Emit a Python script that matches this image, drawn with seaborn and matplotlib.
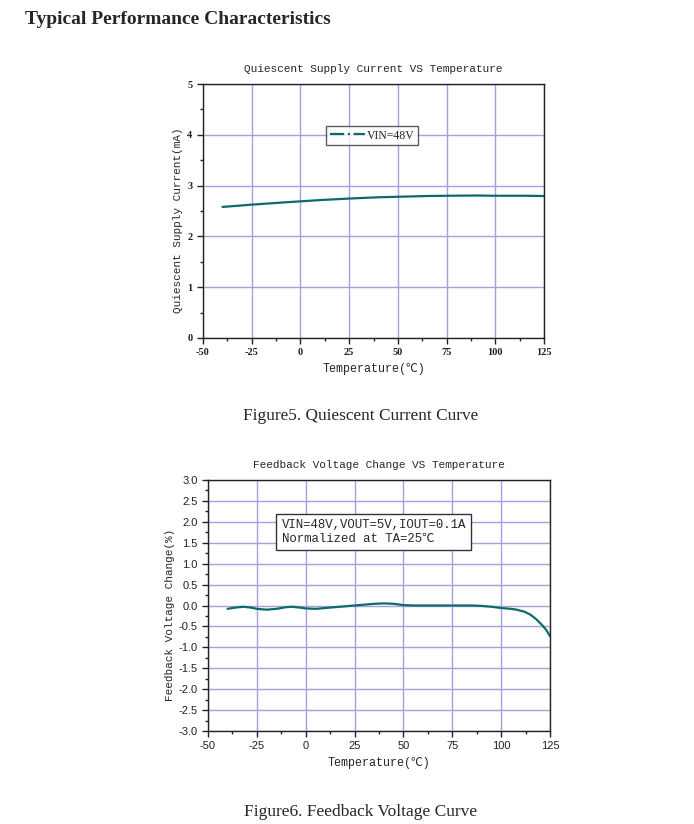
import numpy as np
import pandas as pd
import matplotlib
matplotlib.use("Agg")
import matplotlib.pyplot as plt
from matplotlib.lines import Line2D
from matplotlib.ticker import MultipleLocator, FormatStrFormatter
import seaborn as sns

# figure 5 data: quiescent current vs temperature
temp_q = [-40, -25, -10, 0, 10, 25, 40, 50, 65, 75, 90, 100, 115, 125]
iq_ma = [2.58, 2.625, 2.665, 2.69, 2.715, 2.745, 2.77, 2.78, 2.795, 2.80, 2.805, 2.80, 2.80, 2.795]

# figure 6 data: feedback voltage change vs temperature
temp_fb = [-40, -36, -32, -28, -25, -20, -15, -10, -7, -3, 0, 5, 10, 15, 20, 25, 30, 35,
           40, 45, 50, 55, 60, 70, 80, 85, 90, 95, 100, 105, 108, 112, 115, 118, 121, 123, 125]
fb_change = [-0.08, -0.05, -0.03, -0.05, -0.08, -0.10, -0.08, -0.04, -0.03, -0.05, -0.07,
             -0.08, -0.06, -0.04, -0.02, 0.0, 0.02, 0.04, 0.05, 0.04, 0.01, 0.0, 0.0, 0.0,
             0.0, 0.0, -0.01, -0.03, -0.06, -0.08, -0.10, -0.15, -0.22, -0.33, -0.47, -0.58, -0.73]

df_q = pd.DataFrame({"temp": temp_q, "iq": iq_ma})
df_fb = pd.DataFrame({"temp": temp_fb, "fb": fb_change})

sns.set_style("white")
plt.rcParams["axes.unicode_minus"] = False
line_color = "#0e6a6a"
grid_color = "#a3a3dc"
mono = "Liberation Mono"
mono_cjk = ["Liberation Mono", "Noto Sans CJK SC"]

fig = plt.figure(figsize=(6.94, 8.24), dpi=100)
fig.text(25 / 694, 1 - 20 / 824, "Typical Performance Characteristics", family="Liberation Serif",
         weight="bold", fontsize=14, va="center", ha="left")


def style_axes(ax, tickfont, size):
    ax.set_xlim(-50, 125)
    ax.xaxis.set_major_locator(MultipleLocator(25))
    ax.xaxis.set_minor_locator(MultipleLocator(12.5))
    ax.grid(True, which="major", color=grid_color, linewidth=1.0)
    ax.set_axisbelow(True)
    for s in ax.spines.values():
        s.set_color("#222222")
        s.set_linewidth(1.0)
    ax.tick_params(which="major", direction="out", length=4, width=1, colors="#222222",
                   bottom=True, left=True, labelsize=size)
    ax.tick_params(which="minor", direction="out", length=2, width=1, colors="#222222",
                   bottom=True, left=True)
    for lab in ax.get_xticklabels() + ax.get_yticklabels():
        lab.set_family(tickfont)
        if tickfont == "Liberation Serif":
            lab.set_weight("bold")


# ---- Figure 5 ----
ax1 = fig.add_axes([203 / 694, 1 - 338 / 824, 341 / 694, 254 / 824])
sns.lineplot(data=df_q, x="temp", y="iq", ax=ax1, color=line_color, linewidth=1.6)
ax1.set_ylim(0, 5)
ax1.yaxis.set_major_locator(MultipleLocator(1))
ax1.yaxis.set_minor_locator(MultipleLocator(0.5))
style_axes(ax1, "Liberation Serif", 7.5)
ax1.set_title("Quiescent Supply Current VS Temperature", family=mono, fontsize=8, pad=9)
ax1.set_xlabel("Temperature(℃)", family=mono_cjk, fontsize=8.5, labelpad=4)
ax1.set_ylabel("Quiescent Supply Current(mA)", family=mono, fontsize=8)
ax1.yaxis.set_label_coords(-0.059, 0.465)
handle = Line2D([], [], color=line_color, linestyle="-.", linewidth=1.6)
leg = ax1.legend([handle], ["VIN=48V"], loc="center", bbox_to_anchor=(0.496, 0.797),
                 prop={"family": "Liberation Serif", "size": 8.5}, frameon=True, fancybox=False,
                 handlelength=3.0, handletextpad=0.1, borderpad=0.3, borderaxespad=0)
leg.get_frame().set_edgecolor("#333333")
leg.get_frame().set_linewidth(1.0)
fig.text(361 / 694, 1 - 416 / 824, "Figure5. Quiescent Current Curve", family="Liberation Serif",
         fontsize=12.4, ha="center", va="center")

# ---- Figure 6 ----
ax2 = fig.add_axes([208 / 694, 1 - 731 / 824, 342 / 694, 251 / 824])
sns.lineplot(data=df_fb, x="temp", y="fb", ax=ax2, color=line_color, linewidth=1.6)
ax2.set_ylim(-3, 3)
ax2.yaxis.set_major_locator(MultipleLocator(0.5))
ax2.yaxis.set_minor_locator(MultipleLocator(0.25))
ax2.yaxis.set_major_formatter(FormatStrFormatter("%.1f"))
style_axes(ax2, "Liberation Sans", 8)
ax2.set_title("Feedback Voltage Change VS Temperature", family=mono, fontsize=8, pad=9)
ax2.set_xlabel("Temperature(℃)", family=mono_cjk, fontsize=8.5, labelpad=4)
ax2.set_ylabel("Feedback Voltage Change(%)", family=mono, fontsize=8)
ax2.yaxis.set_label_coords(-0.0965, 0.462)
ax2.text(0.215, 0.793, "VIN=48V,VOUT=5V,IOUT=0.1A\nNormalized at TA=25℃",
         transform=ax2.transAxes, family=mono_cjk, fontsize=8.9,
         va="center", ha="left", linespacing=1.15,
         bbox=dict(boxstyle="square,pad=0.42", facecolor="white", edgecolor="#333333", linewidth=1.0))
fig.text(361 / 694, 1 - 812 / 824, "Figure6. Feedback Voltage Curve", family="Liberation Serif",
         fontsize=12.5, ha="center", va="center")

fig.savefig("out.png", dpi=100)
